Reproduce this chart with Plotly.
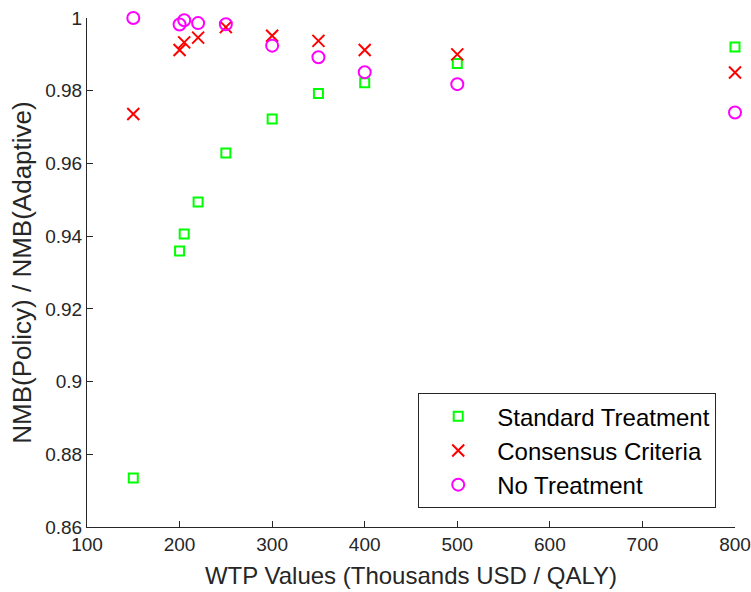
import plotly.graph_objects as go

wtp = [150, 200, 205, 220, 250, 300, 350, 400, 500, 800]
standard = [0.8735, 0.9359, 0.9406, 0.9494, 0.9629, 0.9722, 0.9792, 0.9822, 0.9875, 0.9920]
consensus = [0.9736, 0.9912, 0.9933, 0.9946, 0.9975, 0.9951, 0.9937, 0.9912, 0.9900, 0.9850]
no_treat = [1.0000, 0.9982, 0.9994, 0.9986, 0.9983, 0.9924, 0.9892, 0.9851, 0.9818, 0.9740]

x_ticks = [100, 200, 300, 400, 500, 600, 700, 800]
y_ticks = [0.86, 0.88, 0.9, 0.92, 0.94, 0.96, 0.98, 1.0]
y_tick_text = ["0.86", "0.88", "0.9", "0.92", "0.94", "0.96", "0.98", "1"]

FONT = "Liberation Sans, Arial"

fig = go.Figure()
fig.add_trace(go.Scatter(x=wtp, y=standard, mode="markers", name="Standard Treatment",
                         cliponaxis=False,
                         marker=dict(symbol="square-open", size=9, color="#00ff00",
                                     line=dict(width=2, color="#00ff00"))))
fig.add_trace(go.Scatter(x=wtp, y=consensus, mode="markers", name="Consensus Criteria",
                         cliponaxis=False,
                         marker=dict(symbol="x-thin-open", size=12, color="#ff0000",
                                     line=dict(width=2, color="#ff0000"))))
fig.add_trace(go.Scatter(x=wtp, y=no_treat, mode="markers", name="No Treatment",
                         cliponaxis=False,
                         marker=dict(symbol="circle-open", size=12, color="#ff00ff",
                                     line=dict(width=2, color="#ff00ff"))))

axis_common = dict(showline=True, linecolor="#262626", linewidth=1, ticks="inside",
                   ticklen=6, tickcolor="#262626", tickwidth=1, showgrid=False,
                   zeroline=False, mirror=False, automargin=False,
                   tickfont=dict(family=FONT, size=19, color="#262626"))

fig.update_xaxes(range=[100, 800], tickvals=x_ticks, ticktext=[str(v) for v in x_ticks],
                 title=dict(text="WTP Values (Thousands USD / QALY)", standoff=13,
                            font=dict(family=FONT, size=24, color="#262626")),
                 **axis_common)
fig.update_yaxes(range=[0.86, 1.0], tickvals=y_ticks, ticktext=y_tick_text,
                 title=dict(text="NMB(Policy) / NMB(Adaptive)", standoff=6,
                            font=dict(family=FONT, size=26, color="#262626")),
                 **axis_common)

fig.update_layout(
    width=751, height=592,
    margin=dict(l=87, r=16, t=18, b=65),
    plot_bgcolor="white", paper_bgcolor="white",
    font=dict(family=FONT, color="#000000"),
    legend=dict(x=0.971, xanchor="right", y=0.037, yanchor="bottom",
                bordercolor="#262626", borderwidth=1, bgcolor="white",
                font=dict(size=24, color="#000000", family=FONT),
                itemwidth=68),
    showlegend=True,
)

fig.write_html("out.html")
